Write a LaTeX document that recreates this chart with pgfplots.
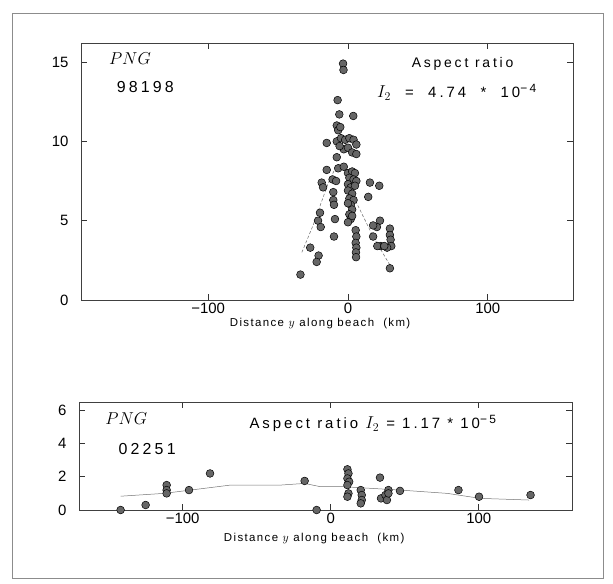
\documentclass[border=0pt]{standalone}
\usepackage{pgfplots}
\pgfplotsset{compat=1.18}
\usepackage{fontspec}
\setmainfont{Liberation Sans}
\newfontfamily\plotfont[LetterSpace=12]{Liberation Sans}
\newfontfamily\notefont[LetterSpace=20]{Liberation Sans}

\pgfplotsset{
  beachstyle/.style={
    scale only axis,
    anchor=south west,
    axis line style={black!75, line width=0.6pt},
    tick style={black!80, line width=0.6pt},
    major tick length=6bp,
    xtick={-100,0,100},
    xticklabels={−100,0,100},
    tick label style={font=\fontsize{15}{17}\selectfont},
    yticklabel style={xshift=-9bp},
    xlabel={Distance $y$ along beach\ \ (km)},
    xlabel style={font=\plotfont\fontsize{11.5}{13}\selectfont, anchor=center},
    clip=false,
  },
  dots/.style={only marks, mark=*, mark size=3.9,
    mark options={fill=black!60, draw=black, line width=0.5pt}},
}

\begin{document}
\begin{tikzpicture}
\path (0bp,0bp) rectangle (613bp,584bp);
\draw[black!45, line width=0.7pt] (12bp,6bp) rectangle (603bp,571bp);

% top panel: PNG 98198
\begin{axis}[beachstyle,
  at={(81bp,284bp)}, width=492bp, height=257bp,
  xmin=-191, xmax=161, ymin=0, ymax=16.2,
  ytick={0,5,10,15}, yticklabels={0,5,10,15},
  xlabel style={at={(axis description cs:0.486,0)}, yshift=-24bp},
]
\addplot[dots] coordinates {
(-3.5,14.9) (-3.2,14.5) (-7.4,12.6) (-6.2,11.7) (3.8,11.6)
(-8,11.0) (-7,10.7) (-5.5,10.9)
(-15.2,9.9) (-8,10.0) (-5,10.2) (-2,10.1) (1,10.2) (4,10.1) (6,9.8)
(-3,9.5) (0,9.6) (3,9.3) (6,9.2) (-6,9.7)
(-8,9.0) (-7,8.3) (-3,8.4) (-15.2,8.2) (-11,7.6) (-8.5,7.5)
(0,8.0) (3,8.1) (5,8.0) (1,7.7) (4,7.6) (6,7.5) (0,7.3) (2,7.1) (5,7.2)
(0,6.9) (3,6.7) (1,6.4) (4,6.3) (2,6.0) (0,6.1) (3,5.7) (1,5.4) (2,5.1)
(0,4.9) (3,5.3)
(-18.8,7.4) (-17.8,7.1) (-10.5,6.8) (-10.5,6.3) (-10,6.0)
(15.7,7.4) (22.4,7.2) (14.5,6.5)
(-20,5.5) (-21.4,5.0) (-19.5,4.6) (-9.3,5.1) (-10,4.0)
(5.5,4.4) (6,4.0) (5.5,3.6) (6,3.3) (5.7,3.0) (5.8,2.7)
(22.9,5.0) (20.7,4.6) (18,4.7) (18,4.0) (23.5,3.4) (21,3.4)
(30,4.5) (30,4.1) (30.5,3.8) (31,3.4) (28,3.3) (26,3.4)
(30,2.0) (-27,3.3) (-21,2.8) (-22.4,2.4) (-34,1.6)
};
\addplot[black!60, densely dashed, line width=0.5pt] coordinates {
(-33,3.0) (-25,4.7) (-14,7.4) (-8,8.5) (-4,8.6) (0,7.6) (5.7,6.2) (18,4.0) (31,2.05)
};
\node[font=\fontsize{17}{19}\selectfont] at (axis cs:-156,15.2) {$PNG$};
\node[font=\notefont\fontsize{16}{18}\selectfont] at (axis cs:-145,13.4) {98198};
\node[font=\notefont\fontsize{14}{16}\selectfont] at (axis cs:82,14.9) {Aspect ratio};
\node[font=\notefont\fontsize{15}{17}\selectfont] at (axis cs:78,13.1)
  {{\fontsize{18}{20}\selectfont$I_2$}\ \ =\ \ 4.74\ \ *\ \ 10\textsuperscript{\fontsize{12}{14}\selectfont−4}};
\end{axis}

% bottom panel: PNG 02251
\begin{axis}[beachstyle,
  at={(79bp,74bp)}, width=493bp, height=108bp,
  xmin=-170, xmax=163, ymin=0, ymax=6.5,
  ytick={0,2,4,6}, yticklabels={0,2,4,6},
  xlabel style={at={(axis description cs:0.477,0)}, yshift=-29bp},
]
\addplot[dots] coordinates {
(-141.9,0.0) (-125,0.3) (-110.8,1.5) (-110.8,1.2) (-110.8,1.0)
(-95.7,1.2) (-81.5,2.2) (-17.6,1.75) (-9.5,0.0)
(11.3,2.45) (12,2.2) (11.3,1.9) (12.5,1.7) (11.3,1.5) (12,1.0) (11.3,0.8)
(20.3,1.2) (21,0.9) (21,0.6) (20.3,0.4)
(33.3,1.95) (34,0.7) (37,0.9) (39,1.2) (38,0.6) (39,1.0)
(46.8,1.15) (86.3,1.2) (100.2,0.8) (135,0.9)
};
\addplot[black!55, line width=0.5pt] coordinates {
(-141.9,0.83) (-112.6,1.0) (-94.6,1.2) (-67.6,1.5) (-33.8,1.5) (-17.6,1.6)
(-6.8,1.4) (9,1.4) (46.8,1.2) (78.8,1.0) (101,0.7) (134,0.6)
};
\node[font=\fontsize{17}{19}\selectfont] at (axis cs:-138,5.5) {$PNG$};
\node[font=\notefont\fontsize{16}{18}\selectfont] at (axis cs:-124,3.7) {02251};
\node[font=\notefont\fontsize{15}{17}\selectfont] at (axis cs:28.6,5.2)
  {Aspect ratio {\fontsize{18}{20}\selectfont$I_2$}\ =\ 1.17\ *\ 10\textsuperscript{\fontsize{12}{14}\selectfont−5}};
\end{axis}
\end{tikzpicture}
\end{document}
